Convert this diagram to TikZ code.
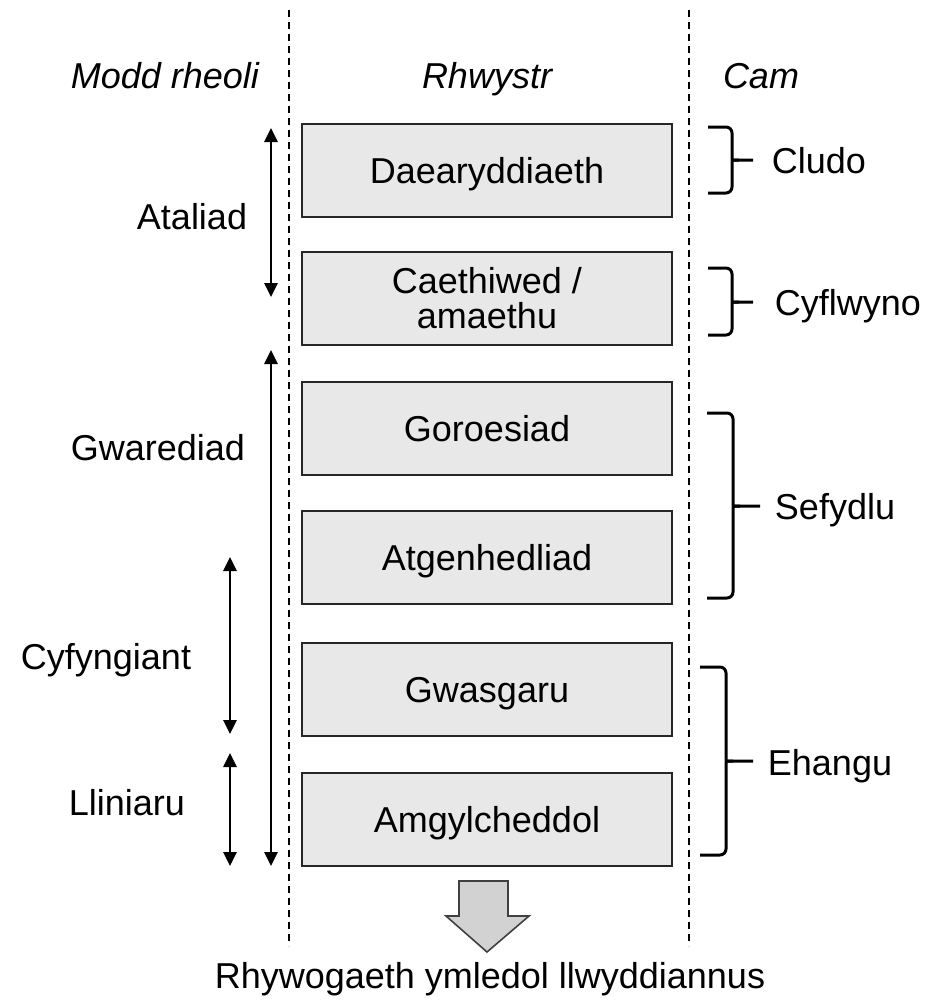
\documentclass[tikz,border=0pt]{standalone}
\usepackage{fontspec}
\setmainfont{Liberation Sans}
\usetikzlibrary{arrows.meta}
\begin{document}
\begin{tikzpicture}[x=1pt,y=-1pt,
  every node/.style={font=\fontsize{36}{36}\selectfont, inner sep=0pt},
  lbl/.style={anchor=base, yshift=-13pt},
  head/.style={lbl, font=\fontsize{36}{36}\selectfont\itshape},
  box/.style={draw=black!85, line width=2pt, fill=gray!18,
    minimum width=370pt, minimum height=93pt, text height=26pt, text depth=0pt},
  divider/.style={line width=1.4pt, dash pattern=on 7pt off 5pt},
  span/.style={line width=2.6pt, {Triangle[width=13pt,length=14pt]}-{Triangle[width=13pt,length=14pt]}},
  brace/.style={line width=3pt, line join=round},
  bigarrow/.style={draw=black!75, line width=1.6pt, fill=gray!35, line join=miter}]

\useasboundingbox (0,0) rectangle (925,1001);

% column dividers
\coordinate (d1t) at (289,10);  \coordinate (d1b) at (289,946);
\coordinate (d2t) at (689,10);  \coordinate (d2b) at (689,946);
\draw[divider] (d1t) -- (d1b);
\draw[divider] (d2t) -- (d2b);

% column headings
\node[head] (h1) at (165,75) {Modd rheoli};
\node[head] (h2) at (487,75) {Rhwystr};
\node[head] (h3) at (761,75) {Cam};

% barrier boxes
\node[box] (b1) at (487,170.5) {Daearyddiaeth};
\node[box] (b2) at (487,298) {};
\node[lbl, align=center, font=\fontsize{36}{35}\selectfont] (b2t) at (487,315) {Caethiwed /\\amaethu};
\node[box] (b3) at (487,428.5) {Goroesiad};
\node[box] (b4) at (487,557) {Atgenhedliad};
\node[box] (b5) at (487,689) {Gwasgaru};
\node[box] (b6) at (487,819) {Amgylcheddol};

% management spans
\coordinate (a1t) at (271,128); \coordinate (a1b) at (271,297);
\coordinate (a2t) at (271,350); \coordinate (a2b) at (271,866);
\coordinate (a3t) at (230,557); \coordinate (a3b) at (230,734);
\coordinate (a4t) at (230,753); \coordinate (a4b) at (230,866);
\draw[span] (a1t) -- (a1b);
\draw[span] (a2t) -- (a2b);
\draw[span] (a3t) -- (a3b);
\draw[span] (a4t) -- (a4b);

\node[lbl] (m1) at (192,216) {Ataliad};
\node[lbl] (m2) at (158,447) {Gwarediad};
\node[lbl] (m3) at (106,656) {Cyfyngiant};
\node[lbl] (m4) at (127,802) {Lliniaru};

% stage braces: left end x, spine x, tip x, top y, mid y, bottom y
\foreach \L/\V/\T/\top/\mid/\bot/\nm in
   {708/732/753/127/160/193/c1, 708/732/753/268/302/335/c2,
    707/733/760/413/506/598/c3, 700/726/753/667/761/855/c4}{
  \coordinate (\nm tip) at (\T,\mid);
  \draw[brace, rounded corners=6pt] (\L,\top) -- (\V,\top) -- (\V,\mid-7)
     .. controls (\V,\mid) .. (\V+7,\mid) -- (\nm tip);
  \draw[brace, rounded corners=6pt] (\L,\bot) -- (\V,\bot) -- (\V,\mid+7)
     .. controls (\V,\mid) .. (\V+7,\mid);
}
\node[lbl] (s1) at (819,160) {Cludo};
\node[lbl] (s2) at (848,302) {Cyflwyno};
\node[lbl] (s3) at (835,506) {Sefydlu};
\node[lbl] (s4) at (830,762) {Ehangu};

% outcome arrow
\draw[bigarrow] (459,881) -- (508,881) -- (508,916) -- (529,916) -- (487,952)
  -- (446,916) -- (459,916) -- cycle;
\node[lbl] (out) at (490,975) {Rhywogaeth ymledol llwyddiannus};
\end{tikzpicture}
\end{document}
